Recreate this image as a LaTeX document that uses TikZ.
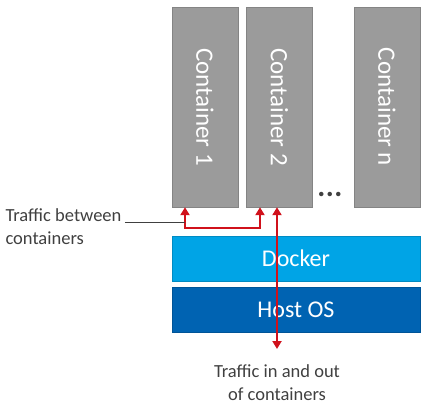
\documentclass[tikz,border=0pt]{standalone}
\usepackage{fontspec}
\setmainfont{Carlito}
\usetikzlibrary{arrows.meta, positioning}

\definecolor{boxgray}{HTML}{9B9B9B}
\definecolor{dockerblue}{HTML}{00A4E6}
\definecolor{hostblue}{HTML}{0063B2}
\definecolor{trafficred}{HTML}{D0111B}
\definecolor{textgray}{HTML}{404040}

\begin{document}
\begin{tikzpicture}[
    x=1pt, y=-1pt,
    container/.style={rectangle, draw=boxgray!85!black, fill=boxgray, inner sep=0pt,
        minimum width=66pt, minimum height=200pt},
    boxtext/.style={rotate=-90, text=white, font=\fontsize{25}{30}\selectfont},
    layer/.style={rectangle, inner sep=0pt, minimum width=248pt, minimum height=45pt,
        text=white, font=\fontsize{24}{28}\selectfont},
    traffic/.style={draw=trafficred, line width=2.7pt,
        {Triangle[length=8pt, width=9pt]}-{Triangle[length=8pt, width=9pt]}},
    leader/.style={draw=textgray, line width=0.8pt},
    caption/.style={text=textgray, font=\fontsize{18.5}{23}\selectfont}
]
\useasboundingbox (0,0) rectangle (430,406);

% Container
\node[container, label={[boxtext]center:Container 1}] (c1) at (205,107) {};
\node[container, right=8pt of c1, label={[boxtext]center:Container 2}] (c2) {};
\node[container, right=41pt of c2, label={[boxtext]center:Container n}] (cn) {};
\node[text=textgray, font=\fontsize{30}{30}\selectfont\bfseries] (dots) at (330,194) {.\kern0.5pt.\kern0.5pt.};

% Schichten
\node[layer, fill=dockerblue, draw=dockerblue!85!black] (docker) at (296,258.5) {Docker};
\node[layer, fill=hostblue, draw=hostblue!85!black, below=6pt of docker] (host) {Host OS};

% Verkehr
\coordinate (b1) at (185,228);
\coordinate (b2) at (260,228);
\coordinate (io) at (277,349);
\coordinate (tap) at (185,222);

\draw[traffic] (c1.south -| b1) |- (b2) -- (c2.south -| b2);
\draw[traffic] (c2.south -| io) -- (io);

% Beschriftung
\node[caption, align=left, anchor=west] (between) at (2,227) {Traffic between\\containers};
\draw[leader] (between.east |- tap) -- (tap);
\node[caption, align=center, below=12pt of io] (inout) {Traffic in and out\\of containers};

\end{tikzpicture}
\end{document}
